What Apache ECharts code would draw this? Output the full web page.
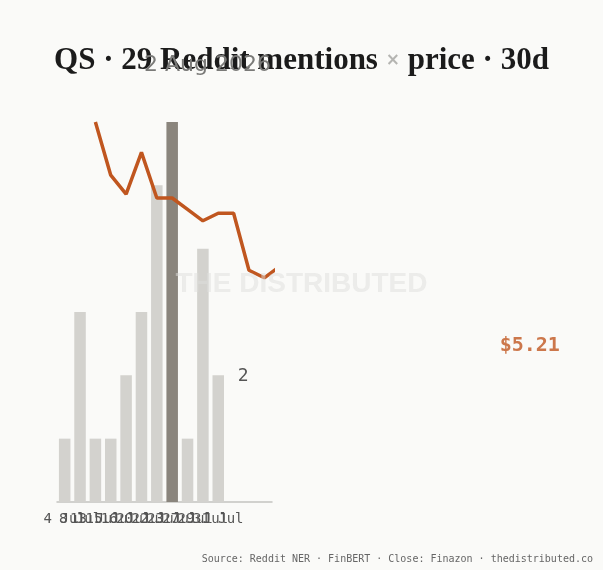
<!DOCTYPE html>
<html>
<head>
<meta charset="utf-8">
<script src="https://cdn.jsdelivr.net/npm/echarts@6/dist/echarts.min.js"></script>
<style>
  html, body { margin: 0; padding: 0; background: #fafaf8; }
  #chart { width: 603px; height: 570px; }
</style>
</head>
<body>
<div id="chart"></div>
<script>
// mention days (category axis), last three slots carry no label
const days = ['4 Jul', '8 Jul', '13 Jul', '15 Jul', '16 Jul', '20 Jul', '22 Jul', '23 Jul', '27 Jul', '29 Jul', '31 Jul', '', '', ''];
const mentions = [1, 3, 1, 1, 2, 3, 5, 6, 1, 4, 2];
const peakIndex = 7;
// 30 days of closes, first two are the weekend
const closes = [null, null, 5.80, 5.66, 5.61, 5.72, 5.60, 5.60, 5.57, 5.54, 5.56, 5.56, 5.41, 5.39, 5.42,
  5.38, 5.35, 5.33, 5.36, 5.30, 5.28, 5.31, 5.27, 5.25, 5.29, 5.24, 5.22, 5.23, 5.21];
const priceMin = 4.8;
const priceMax = 5.8;

const MONO = '"DejaVu Sans Mono", "Liberation Mono", monospace';
const ORANGE = '#c0561f';

const chart = echarts.init(document.getElementById('chart'), null, { renderer: 'canvas' });

const barData = mentions.map((v, i) => {
  if (i === peakIndex) return { value: v, itemStyle: { color: '#8a857d' } };
  if (i === mentions.length - 1) {
    return {
      value: v,
      label: { show: true, position: 'top', offset: [25, 15], color: '#555', fontSize: 18, fontFamily: MONO }
    };
  }
  return v;
});

const lastIdx = closes.length - 1;

const option = {
  backgroundColor: '#fafaf8',
  animation: false,
  title: [{
    text: '{a|QS · 29 Reddit mentions }{x|×}{a| price · 30d}',
    left: 'center',
    top: 40,
    textStyle: {
      rich: {
        a: { fontFamily: '"Liberation Serif", "DejaVu Serif", serif', fontWeight: 'bold', fontSize: 31, color: '#1b1b1b' },
        x: { fontFamily: '"DejaVu Sans", sans-serif', fontSize: 17, color: '#b5b5b2' }
      }
    }
  }, {
    text: '2 Aug 2026',
    left: 139,
    top: 49,
    textStyle: { fontFamily: '"DejaVu Sans", sans-serif', fontWeight: 'normal', fontSize: 22, color: '#7a7a78' }
  }],
  grid: { left: 57, right: 331, top: 122, bottom: 68 },
  xAxis: {
    type: 'category',
    data: days,
    axisLine: { lineStyle: { color: '#c4c4c0', width: 1.5 } },
    axisTick: { show: false },
    axisLabel: { interval: 0, color: '#555', fontSize: 14, fontFamily: MONO, margin: 10 }
  },
  yAxis: [
    { type: 'value', min: 0, max: 'dataMax', show: false },
    { type: 'value', min: priceMin, max: priceMax, show: false }
  ],
  series: [{
    type: 'bar',
    data: barData,
    barCategoryGap: '25%',
    itemStyle: { color: '#d3d2ce' }
  }, {
    type: 'line',
    yAxisIndex: 1,
    data: closes,
    symbol: 'none',
    lineStyle: { color: ORANGE, width: 3.5 }
  }, {
    // latest close, sits on the last day of the price series
    type: 'scatter',
    yAxisIndex: 1,
    clip: false,
    symbolSize: 0,
    data: [[lastIdx, closes[lastIdx]]],
    label: {
      show: true,
      position: 'right',
      distance: 5,
      color: ORANGE,
      fontFamily: MONO,
      fontWeight: 'bold',
      fontSize: 20,
      formatter: p => '$' + p.value[1].toFixed(2)
    }
  }],
  graphic: [{
    type: 'text',
    left: 'center',
    top: 270,
    z: 100,
    style: {
      text: 'THE DISTRIBUTED',
      font: 'bold 28px "Liberation Sans", Arial, sans-serif',
      fill: 'rgba(222, 222, 220, 0.5)'
    }
  }, {
    type: 'text',
    right: 10,
    bottom: 6,
    style: {
      text: 'Source: Reddit NER · FinBERT · Close: Finazon · thedistributed.co',
      font: '10px ' + MONO,
      fill: '#666'
    }
  }]
};

chart.setOption(option);
</script>
</body>
</html>
